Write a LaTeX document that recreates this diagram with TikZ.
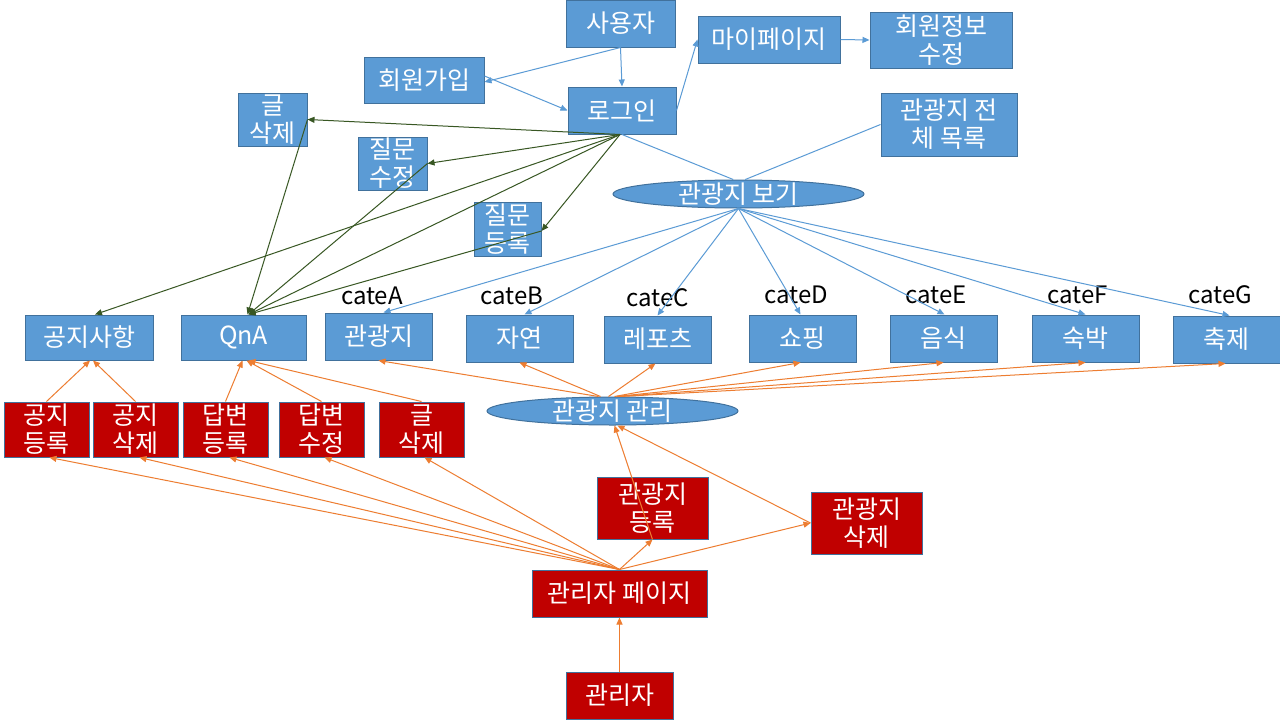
\documentclass[tikz,border=0pt]{standalone}
\usepackage{fontspec}
\setmainfont{Noto Sans CJK KR}
\usetikzlibrary{shapes.geometric,arrows.meta}
\definecolor{bfill}{HTML}{5B9BD5}
\definecolor{bline}{HTML}{41719C}
\definecolor{rfill}{HTML}{C00000}
\definecolor{gline}{HTML}{385723}
\definecolor{oline}{HTML}{ED7D31}
\begin{document}
\begin{tikzpicture}[x=1pt,y=-1pt,
  sz/.style 2 args={minimum width=#1pt,minimum height=#2pt},
  bx/.style={draw=bline,line width=1pt,fill=bfill,text=white,align=center,inner sep=0pt,
    font=\fontsize{25}{28}\selectfont},
  rx/.style={bx,fill=rfill},
  el/.style={ellipse,draw=bline,fill=bfill,line width=1pt,inner sep=0pt,sz={251}{28}},
  lbl/.style={text=white,inner sep=0pt,font=\fontsize{25}{28}\selectfont},
  cat/.style={text=black,inner sep=0pt,font=\fontsize{24}{26}\selectfont},
  tip/.style={-{Triangle[length=7pt,width=6pt]}},
  ba/.style={draw=bfill,line width=1pt,tip},
  bl/.style={draw=bfill,line width=1pt},
  ga/.style={draw=gline,line width=1pt,tip},
  oa/.style={draw=oline,line width=1pt,tip}
]
\fill[white] (0,0) rectangle (1280,720);
\useasboundingbox (0,0) rectangle (1280,720);

% blue nodes
\node[bx,sz={109}{47}] (user) at (620.5,23.5) {사용자};
\node[bx,sz={120}{46}] (join) at (424,80) {회원가입};
\node[bx,sz={108}{47}] (login) at (622,110.5) {로그인};
\node[bx,sz={142}{47}] (mypage) at (769,39.5) {마이페이지};
\node[bx,sz={142}{56}] (edit) at (941,40) {회원정보\\수정};
\node[bx,sz={136}{63}] (list) at (949,124.5) {관광지 전\\체 목록};
\node[el] (view) at (738.5,194) {};
\node[lbl] (viewlbl) at (738.5,194) {관광지 보기};
\node[bx,sz={69}{53}] (del1) at (272.5,119.5) {글\\삭제};
\node[bx,sz={69}{53}] (qedit) at (392.5,163.5) {질문\\수정};
\node[bx,sz={67}{54}] (qreg) at (507.5,229) {질문\\등록};
\node[bx,sz={128}{45}] (notice) at (89,337.5) {공지사항};
\node[bx,sz={125}{45}] (qna) at (243.5,337.5) {QnA};
\node[bx,sz={107}{47}] (cA) at (378.5,336.5) {관광지};
\node[bx,sz={107}{47}] (cB) at (519.5,338.5) {자연};
\node[bx,sz={107}{47}] (cC) at (657.5,339.5) {레포츠};
\node[bx,sz={107}{47}] (cD) at (802.5,338.5) {쇼핑};
\node[bx,sz={107}{47}] (cE) at (943.5,338.5) {음식};
\node[bx,sz={107}{47}] (cF) at (1085.5,338.5) {숙박};
\node[bx,sz={107}{47}] (cG) at (1226.5,339.5) {축제};
\node[cat] (tA) at (372,296) {cateA};
\node[cat] (tB) at (512,296) {cateB};
\node[cat] (tC) at (658,298) {cateC};
\node[cat] (tD) at (796,295) {cateD};
\node[cat] (tE) at (936,295) {cateE};
\node[cat] (tF) at (1078,295) {cateF};
\node[cat] (tG) at (1220,295) {cateG};
\node[el] (manage) at (612.5,411) {};
\node[lbl] (managelbl) at (612.5,411) {관광지 관리};

% red nodes
\node[rx,sz={85}{55}] (r1) at (46.5,429.5) {공지\\등록};
\node[rx,sz={85}{55}] (r2) at (135.5,429.5) {공지\\삭제};
\node[rx,sz={85}{55}] (r3) at (225.5,429.5) {답변\\등록};
\node[rx,sz={85}{55}] (r4) at (321.5,429.5) {답변\\수정};
\node[rx,sz={85}{55}] (r5) at (421.5,429.5) {글\\삭제};
\node[rx,sz={111}{62}] (treg) at (652.5,508) {관광지\\등록};
\node[rx,sz={111}{62}] (tdel) at (866.5,523) {관광지\\삭제};
\node[rx,sz={175}{47}] (apage) at (619.5,593.5) {관리자 페이지};
\node[rx,sz={107}{47}] (admin) at (619.5,695.5) {관리자};

% blue connectors
\draw[ba] (user.south) -- (login.north);
\draw[ba] (user.south) -- ([yshift=-2]join.east);
\draw[ba] ([yshift=4]join.east) -- (login.west);
\draw[ba] (login.east) -- (mypage.west);
\draw[ba] (mypage.east) -- (edit.west);
\draw[bl] (login.south) -- (view.110);
\draw[bl] (list.west) -- (view.65);
\draw[ba] (view.south) -- ([xshift=5]cA.north);
\draw[ba] (view.south) -- ([xshift=5]cB.north);
\draw[ba] (view.south) -- (cC.north);
\draw[ba] (view.south) -- ([xshift=-2]cD.north);
\draw[ba] (view.south) -- ([xshift=1]cE.north);
\draw[ba] (view.south) -- (cF.north);
\draw[ba] (view.south) -- ([xshift=3]cG.north);

% green connectors
\coordinate (lg) at ([xshift=-2]login.south);
\draw[ga] (lg) -- (del1.east);
\draw[ga] (lg) -- (qedit.east);
\draw[ga] (lg) -- ([yshift=-2]qreg.east);
\draw[ga] (lg) -- ([xshift=6]notice.north);
\draw[ga] (lg) -- ([xshift=5]qna.north);
\draw[ga] (del1.east) -- ([xshift=4]qna.north);
\draw[ga] (qedit.east) -- ([xshift=5]qna.north);
\draw[ga] ([yshift=-2]qreg.east) -- ([xshift=5]qna.north);

% orange connectors
\draw[oa] (admin.north) -- (apage.south);
\draw[oa] (apage.north) -- (treg.south);
\draw[oa] (apage.north) -- (tdel.west);
\draw[oa] (treg.south) -- ([xshift=2]manage.south);
\draw[oa] (tdel.west) -- ([xshift=5]manage.south);
\draw[oa] (apage.north) -- ([xshift=3]r1.south);
\draw[oa] (apage.north) -- ([xshift=4]r2.south);
\draw[oa] (apage.north) -- ([xshift=4]r3.south);
\draw[oa] (apage.north) -- ([xshift=3]r4.south);
\draw[oa] (apage.north) -- ([xshift=3]r5.south);
\draw[oa] (r1.north) -- ([xshift=1]notice.south);
\draw[oa] (r2.north) -- ([xshift=4]notice.south);
\draw[oa] (r3.north) -- ([xshift=-1]qna.south);
\draw[oa] (r4.north) -- ([xshift=3]qna.south);
\draw[oa] (r5.north) -- ([xshift=5]qna.south);
\draw[oa] ([xshift=-14]manage.north) -- (cA.south);
\draw[oa] ([xshift=-12]manage.north) -- (cB.south);
\draw[oa] ([xshift=-4]manage.north) -- ([xshift=-2]cC.south);
\draw[oa] ([xshift=2]manage.north) -- ([xshift=-2]cD.south);
\draw[oa] ([xshift=4]manage.north) -- (cE.south);
\draw[oa] ([xshift=6]manage.north) -- (cF.south);
\draw[oa] ([xshift=8]manage.north) -- ([xshift=-1]cG.south);
\end{tikzpicture}
\end{document}
